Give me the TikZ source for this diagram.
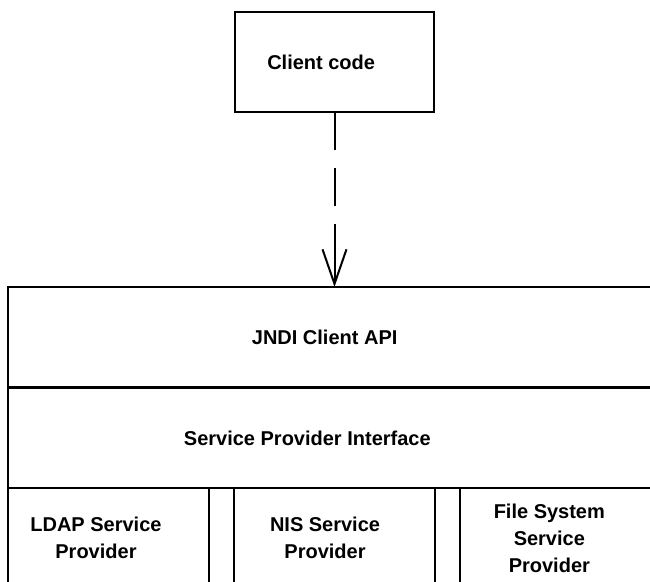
\documentclass[tikz,border=0pt]{standalone}
\usepackage{fontspec}
\setmainfont{Liberation Sans}
\usepackage{tikz}
\usetikzlibrary{arrows.meta,positioning}

\begin{document}
\begin{tikzpicture}[
  x=0.75pt,y=-0.75pt,
  box/.style={draw,line width=1.5pt,outer sep=0pt,inner sep=0pt,anchor=north west,minimum height=75pt},
  layer/.style={box,minimum width=519pt},
  lbl/.style={font=\bfseries\fontsize{15pt}{20.25pt}\selectfont,align=center},
  dep/.style={line width=1.5pt,dash pattern=on 28.5pt off 13.5pt on 28.5pt off 13.5pt on 60pt,
    -{Straight Barb[length=26pt,width=18pt,line join=miter]}}
]
\useasboundingbox (0,0) rectangle (650,582);
\clip (0,0) rectangle (650,582);
\node[box,anchor=center,minimum width=149.25pt,
  label={[lbl,xshift=-10pt]center:Client code}] (client) at (334.5,62) {};
\node[layer,label={[lbl,xshift=-22pt]center:JNDI Client API}] (api) at (8,287) {};
\node[layer,label={[lbl,xshift=-35pt]center:Service Provider Interface}] (spi) at (8,388) {};
\node[box,minimum width=150.75pt,label={[lbl,xshift=-9.4pt]center:LDAP Service\\Provider}] (ldap) at (8,488) {};
\node[box,minimum width=18.75pt] (gapa) at (209,488) {};
\node[box,minimum width=150.75pt,label={[lbl,xshift=-7.1pt]center:NIS Service\\Provider}] (nis) at (234,488) {};
\node[box,minimum width=18.75pt] (gapb) at (435,488) {};
\node[box,minimum width=180pt,label={[lbl,xshift=-23pt]center:File System\\Service\\Provider}] (fs) at (460,488) {};
\draw[dep] (client.south) -- (client.south |- api.north);
\end{tikzpicture}
\end{document}
